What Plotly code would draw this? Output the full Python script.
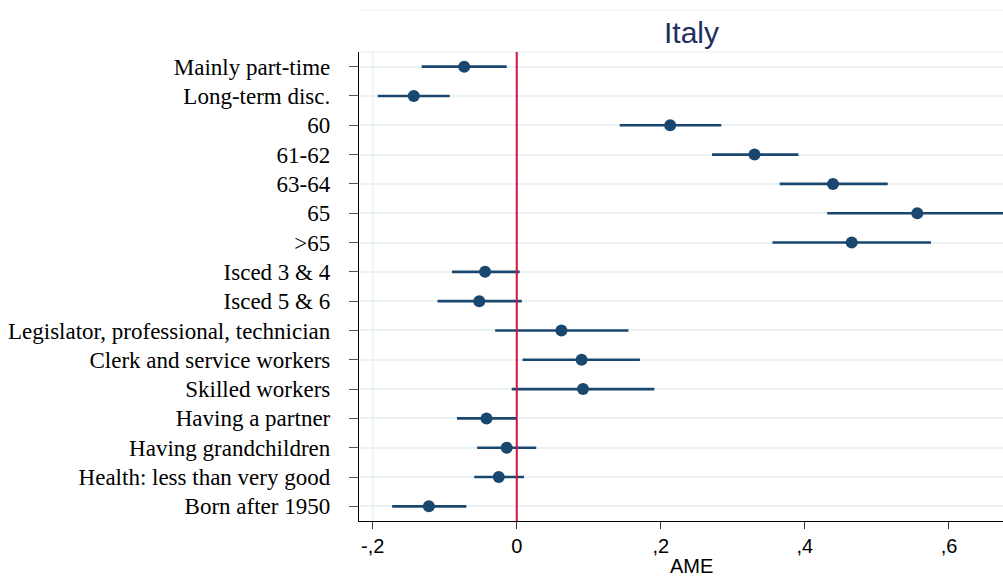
import plotly.graph_objects as go

labels = ["Mainly part-time", "Long-term disc.", "60", "61-62", "63-64", "65", ">65",
          "Isced 3 & 4", "Isced 5 & 6", "Legislator, professional, technician",
          "Clerk and service workers", "Skilled workers", "Having a partner",
          "Having grandchildren", "Health: less than very good", "Born after 1950"]
ame = [-0.073, -0.143, 0.213, 0.330, 0.439, 0.556, 0.465,
       -0.044, -0.052, 0.062, 0.090, 0.092, -0.042, -0.014, -0.025, -0.122]
ci_low = [-0.132, -0.193, 0.143, 0.271, 0.365, 0.431, 0.355,
          -0.090, -0.110, -0.030, 0.008, -0.007, -0.083, -0.055, -0.059, -0.173]
ci_high = [-0.014, -0.093, 0.284, 0.391, 0.515, 0.681, 0.575,
           0.004, 0.007, 0.155, 0.171, 0.191, 0.000, 0.027, 0.010, -0.070]
x_ticks = [-0.2, 0, 0.2, 0.4, 0.6]
x_tick_text = ["-,2", "0", ",2", ",4", ",6"]

pos = list(range(1, len(labels) + 1))
navy = "#1a476f"

fig = go.Figure()
fig.add_trace(go.Scatter(
    x=ame, y=pos, mode="markers",
    marker=dict(color=navy, size=12, symbol="circle"),
    error_x=dict(type="data", symmetric=False,
                 array=[h - a for h, a in zip(ci_high, ame)],
                 arrayminus=[a - l for a, l in zip(ame, ci_low)],
                 width=0, thickness=2.6, color=navy),
    showlegend=False, cliponaxis=True,
))

L, T, B = 359, 52, 57
W, H = 1003, 578
ph = H - T - B
cx = (691 - L) / (W - L)

fig.update_layout(
    width=W, height=H, autosize=False,
    margin=dict(l=L, r=0, t=T, b=B, autoexpand=False),
    plot_bgcolor="white", paper_bgcolor="white",
    xaxis=dict(range=[-0.219, 0.675], tickvals=x_ticks, ticktext=x_tick_text,
               showgrid=False, zeroline=False, showline=True, linecolor="black",
               linewidth=1.3, ticks="outside", ticklen=7, tickcolor="#333",
               tickfont=dict(family="Liberation Sans, Arial", size=20, color="black")),
    yaxis=dict(range=[16.5, 0.5], tickvals=pos, ticktext=labels,
               showgrid=True, gridcolor="#eaf2f3", gridwidth=2, zeroline=False,
               showline=True, linecolor="black", linewidth=1.3,
               ticks="outside", ticklen=9, tickcolor="#555", ticklabelstandoff=14,
               tickfont=dict(family="Liberation Serif, Times New Roman", size=23,
                             color="black")),
    shapes=[
        dict(type="line", xref="x", yref="paper", x0=-0.2, x1=-0.2, y0=0, y1=1,
             line=dict(color="#eaf2f3", width=1.5), layer="below"),
        dict(type="line", xref="paper", yref="paper", x0=0, x1=1, y0=1, y1=1,
             line=dict(color="#eef3f4", width=1.5), layer="below"),
        dict(type="line", xref="paper", yref="paper", x0=0, x1=1,
             y0=1 + 42 / ph, y1=1 + 42 / ph,
             line=dict(color="#f3f6f7", width=1), layer="below"),
        dict(type="line", xref="x", yref="paper", x0=0, x1=0, y0=0, y1=1,
             line=dict(color="#d3123f", width=2)),
    ],
    annotations=[
        dict(text="Italy", xref="paper", yref="paper", x=cx, y=1 + 20 / ph,
             xanchor="center", yanchor="middle", showarrow=False,
             font=dict(family="Liberation Sans, Arial", size=30, color="#1c2f5e")),
        dict(text="AME", xref="paper", yref="paper", x=cx, y=-45 / ph,
             xanchor="center", yanchor="middle", showarrow=False,
             font=dict(family="Liberation Sans, Arial", size=20, color="black")),
    ],
)

fig.write_html("out.html", config={"displayModeBar": False},
               post_script="document.body.style.margin='0';document.body.style.overflow='hidden';")
